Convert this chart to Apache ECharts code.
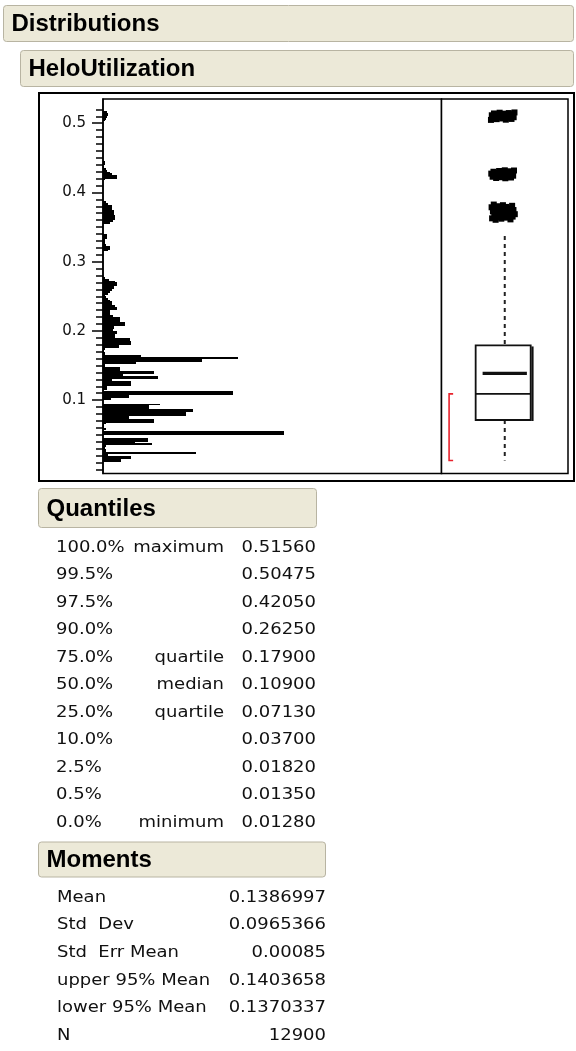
<!DOCTYPE html>
<html><head><meta charset="utf-8">
<script src="https://cdn.jsdelivr.net/npm/echarts@6/dist/echarts.min.js"></script>
<style>html,body{margin:0;padding:0;background:#fff}#c{width:576px;height:1051px}</style>
</head><body><div id="c"></div>
<script>
// ---------------- data ----------------
const yMajorTicks = [0.1, 0.2, 0.3, 0.4, 0.5];
const yMinorTicks = [0.00,0.01,0.02,0.03,0.04,0.05,0.06,0.07,0.08,0.09,0.10,0.11,0.12,0.13,0.14,0.15,0.16,0.17,0.18,0.19,
  0.20,0.21,0.22,0.23,0.24,0.25,0.26,0.27,0.28,0.29,0.30,0.31,0.32,0.33,0.34,0.35,0.36,0.37,0.38,0.39,
  0.40,0.41,0.42,0.43,0.44,0.45,0.46,0.47,0.48,0.49,0.50,0.51,0.52];

const binWidth = 0.0025;
const binLow = [
  0.0100,0.0125,0.0150,0.0175,0.0200,0.0225,0.0250,0.0275,0.0300,0.0325,0.0350,0.0375,0.0400,0.0425,
  0.0500,0.0525,0.0575,0.0600,0.0625,0.0650,0.0675,0.0700,0.0725,0.0750,0.0775,0.0800,0.0825,0.0850,
  0.0875,0.0900,0.0925,0.1000,0.1025,0.1050,0.1075,0.1100,0.1150,0.1175,0.1200,0.1225,0.1250,0.1275,
  0.1300,0.1325,0.1350,0.1375,0.1400,0.1425,0.1450,0.1475,0.1500,0.1525,0.1550,0.1575,0.1600,0.1625,
  0.1650,0.1675,0.1700,0.1725,0.1750,0.1775,0.1800,0.1825,0.1850,0.1875,0.1900,0.1925,0.1950,0.1975,
  0.2000,0.2025,0.2050,0.2075,0.2100,0.2125,0.2150,0.2175,0.2200,0.2225,0.2250,0.2275,0.2300,0.2325,
  0.2350,0.2375,0.2400,0.2425,0.2450,0.2475,0.2500,0.2525,0.2550,0.2575,0.2600,0.2625,0.2650,0.2675,
  0.2700,0.2725,0.2750,
  0.3150,0.3175,0.3200,0.3225,0.3250,0.3275,0.3300,0.3325,0.3350,0.3375,
  0.3550,0.3575,0.3600,0.3625,0.3650,0.3675,0.3700,0.3725,0.3750,0.3775,0.3800,0.3825,0.3850,
  0.4175,0.4200,0.4225,0.4250,0.4275,0.4300,0.4325,0.4350,0.4400,0.4425,
  0.5025,0.5050,0.5075,0.5100,0.5125,0.5150
];
const binCount = [
  18,18,28,28,5,93,3,3,2,3,49,32,45,45,
  181,181,3,1,1,3,51,51,26,26,83,83,90,90,
  46,46,57,8,26,26,130,130,4,4,28,28,28,9,
  55,55,20,51,51,17,17,2,2,33,99,99,135,38,
  2,2,1,2,16,16,28,28,27,27,12,12,14,14,
  10,11,11,22,22,17,17,17,10,7,7,7,14,14,
  12,9,9,7,5,3,2,5,7,9,11,11,14,14,
  12,6,2,
  5,7,7,3,2,2,2,4,4,4,
  7,10,12,12,12,11,11,11,9,9,9,5,3,
  2,14,14,9,7,4,3,1,2,2,
  2,3,4,5,5,4
];

// box plot: [lower whisker, Q1, median, Q3, upper whisker]
const boxStats = [0.0128, 0.0713, 0.1090, 0.1790, 0.3370];
const meanValue = 0.1386997;
const shortestHalf = [0.0128, 0.1090];
const outlierValues = [
  0.5048,0.5051,0.5059,0.5062,0.5069,0.5071,0.5078,0.5083,0.5087,0.5094,0.5097,0.5105,0.5108,0.5115,
  0.5119,0.5127,0.5130,0.5138,0.5141,0.5147,0.5152,0.5156,
  0.4205,0.4209,0.4216,0.4220,0.4227,0.4231,0.4239,0.4242,0.4250,0.4253,0.4261,0.4265,0.4272,0.4276,
  0.4284,0.4287,0.4295,0.4299,0.4306,0.4310,0.4317,0.4320,
  0.3605,0.3611,0.3621,0.3626,0.3636,0.3641,0.3651,0.3656,0.3666,0.3671,0.3681,0.3686,0.3696,0.3701,
  0.3711,0.3716,0.3726,0.3731,0.3741,0.3746,0.3756,0.3761,0.3771,0.3776,0.3786,0.3791,0.3801,0.3807,
  0.3816,0.3825
];

const quantilePct  = ['100.0%','99.5%','97.5%','90.0%','75.0%','50.0%','25.0%','10.0%','2.5%','0.5%','0.0%'];
const quantileName = ['maximum','','','','quartile','median','quartile','','','','minimum'];
const quantileVal  = ['0.51560','0.50475','0.42050','0.26250','0.17900','0.10900','0.07130','0.03700','0.01820','0.01350','0.01280'];

const momentLabel = ['Mean','Std  Dev','Std  Err Mean','upper 95% Mean','lower 95% Mean','N'];
const momentVal   = ['0.1386997','0.0965366','0.00085','0.1403658','0.1370337','12900'];

// ---------------- chart ----------------
const chart = echarts.init(document.getElementById('c'), null, {renderer:'canvas', width:576, height:1051});

const Y_MIN = -0.006, Y_MAX = 0.535;
const TXT_FONT = '15px "DejaVu Sans"';
const HDR_FONT = 'bold 24px "Liberation Sans"';

const graphic = [];
function header(x, y, w, h, label) {
  graphic.push({type:'rect', shape:{x:x, y:y, width:w, height:h, r:3},
    style:{fill:'#ECE9D8', stroke:'#B8B4A2', lineWidth:1}, z:1});
  graphic.push({type:'text', x:x + 8, y:y + h / 2 + 1,
    style:{text:label, font:HDR_FONT, fill:'#000', textVerticalAlign:'middle'}, z:2});
}
function txt(x, y, s, align) {
  graphic.push({type:'text', x:x, y:y, scaleX:1.2,
    style:{text:s, font:TXT_FONT, fill:'#111', textAlign:align, textVerticalAlign:'middle'}, z:2});
}
header(3.5, 5.5, 570, 36, 'Distributions');
header(20.5, 50.5, 553, 36, 'HeloUtilization');
graphic.push({type:'rect', shape:{x:39, y:93, width:535, height:388},
  style:{fill:null, stroke:'#000', lineWidth:2}, z:1});
header(38.5, 488.5, 278, 39, 'Quantiles');
quantilePct.forEach((p, i) => {
  const y = 548 + 27.5 * i;
  txt(56, y, p, 'left');
  if (quantileName[i]) txt(224, y, quantileName[i], 'right');
  txt(316, y, quantileVal[i], 'right');
});
header(38.5, 842, 287, 35, 'Moments');
momentLabel.forEach((m, i) => {
  const y = 898 + 27.6 * i;
  txt(57, y, m, 'left');
  txt(326, y, momentVal[i], 'right');
});

const option = {
  animation: false,
  backgroundColor: '#fff',
  grid: [
    {left:103, top:99, width:338.5, height:374.5, show:true, borderColor:'#000', borderWidth:1.5, backgroundColor:'#fff'},
    {left:441.5, top:99, width:126.5, height:374.5, show:true, borderColor:'#000', borderWidth:1.5, backgroundColor:'#fff'}
  ],
  xAxis: [
    {type:'value', gridIndex:0, min:0, max:338.5, show:false},
    {type:'value', gridIndex:1, min:0, max:1, show:false}
  ],
  yAxis: [
    {type:'value', gridIndex:0, min:Y_MIN, max:Y_MAX, position:'left',
      axisLine:{show:true, lineStyle:{color:'#000', width:1.5}},
      axisTick:{show:true, length:11, customValues:yMajorTicks, lineStyle:{color:'#000', width:1.5}},
      axisLabel:{show:true, customValues:yMajorTicks, margin:17, fontFamily:'DejaVu Sans', fontSize:15, color:'#111',
        formatter: v => Number(v).toFixed(1)},
      splitLine:{show:false}},
    {type:'value', gridIndex:0, min:Y_MIN, max:Y_MAX, position:'left', offset:0,
      axisLine:{show:false},
      axisTick:{show:true, length:7, customValues:yMinorTicks, lineStyle:{color:'#000', width:1.5}},
      axisLabel:{show:false}, splitLine:{show:false}},
    {type:'value', gridIndex:1, min:Y_MIN, max:Y_MAX, show:false}
  ],
  series: [
    {
      type:'custom', name:'histogram', xAxisIndex:0, yAxisIndex:0,
      data: binLow.map((lo, i) => [binCount[i], lo]),
      encode:{x:0, y:1},
      renderItem: function (params, api) {
        const cnt = api.value(0), lo = api.value(1);
        const p0 = api.coord([0, lo + binWidth]);
        const p1 = api.coord([cnt, lo]);
        const yTop = Math.round(p0[1]);
        const yBot = Math.max(Math.round(p1[1]), yTop + 1);
        return {type:'rect', shape:{x:p0[0], y:yTop, width:p1[0] - p0[0], height:yBot - yTop},
          style:{fill:'#000'}};
      }
    },
    {
      type:'custom', name:'box', xAxisIndex:1, yAxisIndex:2,
      data:[[0.5, boxStats[2]]],
      encode:{x:0, y:1},
      renderItem: function (params, api) {
        const c = (x, v) => api.coord([x, v]);
        const L = 0.27, R = 0.705, W = 0.5;
        const pTop = c(L, boxStats[3]), pBot = c(R, boxStats[1]);
        const dash = {stroke:'#222', lineWidth:2, lineDash:[4, 4]};
        const line = (a, b, st) => ({type:'line', shape:{x1:a[0], y1:a[1], x2:b[0], y2:b[1]}, style:st});
        return {type:'group', children:[
          line(c(W, boxStats[4]), c(W, boxStats[3]), dash),
          line(c(W, boxStats[1]), c(W, boxStats[0]), dash),
          {type:'rect', shape:{x:pTop[0], y:pTop[1], width:pBot[0] - pTop[0], height:pBot[1] - pTop[1]},
            style:{fill:'#fff', stroke:'#111', lineWidth:1.8}},
          line([pBot[0] + 1.8, pTop[1] + 1], [pBot[0] + 1.8, pBot[1] + 1], {stroke:'#111', lineWidth:2.2}),
          line(c(L, boxStats[2]), c(R, boxStats[2]), {stroke:'#111', lineWidth:1.8}),
          line(c(0.325, meanValue), c(0.675, meanValue), {stroke:'#111', lineWidth:3.2}),
          {type:'polyline', shape:{points:[c(0.092, shortestHalf[1]), c(0.06, shortestHalf[1]),
              c(0.06, shortestHalf[0]), c(0.092, shortestHalf[0])]},
            style:{fill:null, stroke:'#E8222C', lineWidth:1.6}}
        ]};
      }
    },
    {
      type:'scatter', name:'outliers', xAxisIndex:1, yAxisIndex:2,
      symbol:'rect', symbolSize:6, silent:true,
      itemStyle:{color:'#000', borderWidth:0, opacity:1},
      data: outlierValues.map((v, i) => [0.391 + 0.19 * ((i * 0.6180339887) % 1), v])
    }
  ],
  graphic: graphic
};
chart.setOption(option);
</script>
</body></html>
